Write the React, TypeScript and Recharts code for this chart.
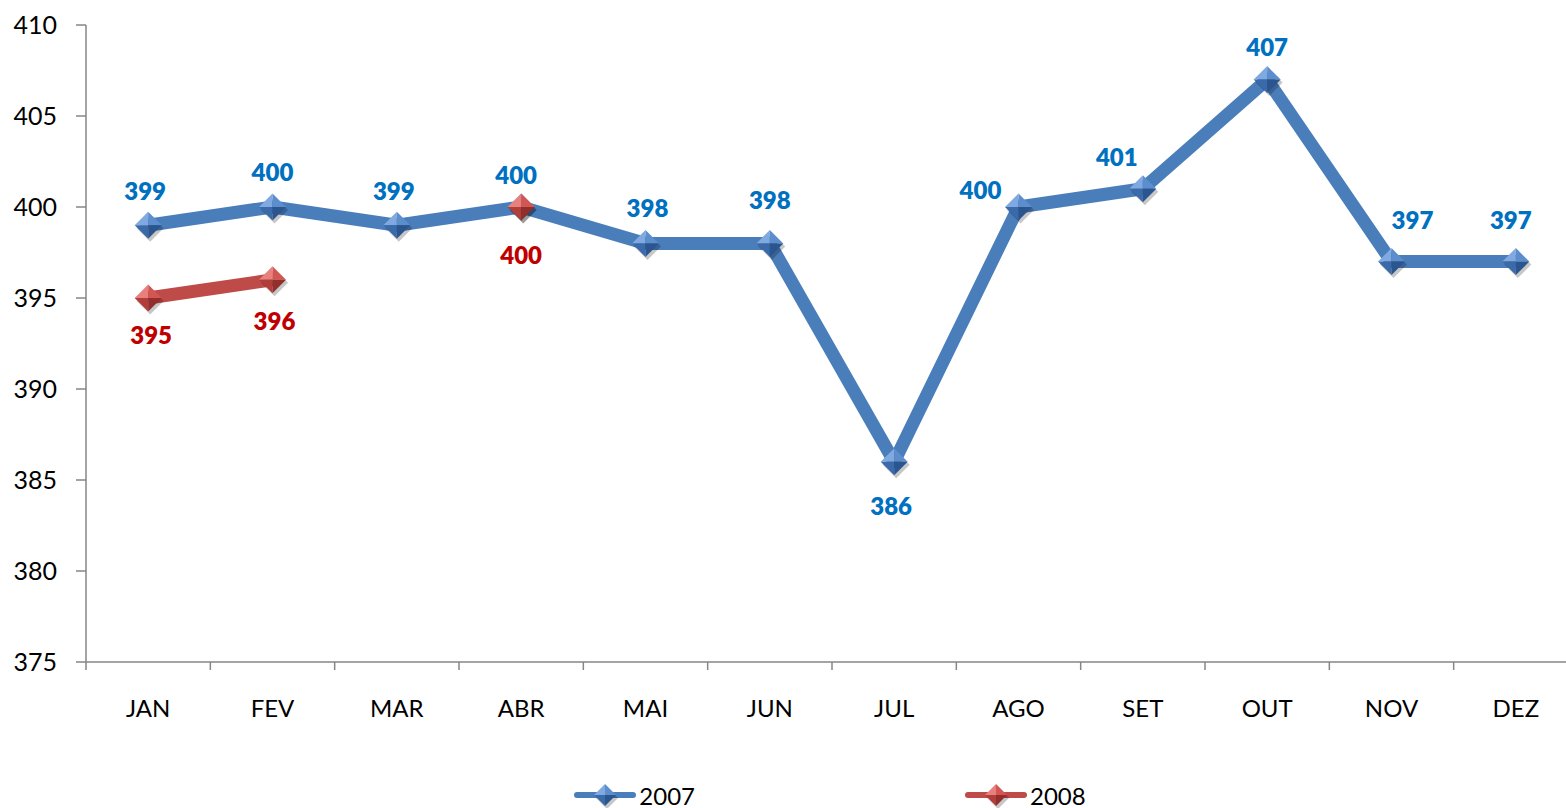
import React from 'react';
import { LineChart, Line, XAxis, YAxis, Legend, LabelList } from 'recharts';

const months = ['JAN', 'FEV', 'MAR', 'ABR', 'MAI', 'JUN', 'JUL', 'AGO', 'SET', 'OUT', 'NOV', 'DEZ'];
const values2007: (number | null)[] = [399, 400, 399, 400, 398, 398, 386, 400, 401, 407, 397, 397];
const values2008: (number | null)[] = [395, 396, null, 400, null, null, null, null, null, null, null, null];
const yTicks = [375, 380, 385, 390, 395, 400, 405, 410];
const categoryTicks = months.map((_, i) => i);
const boundaryTicks = [...months.map((_, i) => i - 0.5), months.length - 0.5];

// label placement offsets (layout only)
const labelOffsets2007 = [
  [-3, -35], [0, -36], [-3, -35], [-5, -33], [2, -36], [0, -44],
  [-3, 44], [-38, -18], [-26, -32], [0, -33], [21, -42], [-5, -42],
];
const labelOffsets2008 = [
  [3, 36], [2, 41], [0, 0], [0, 47], [0, 0], [0, 0],
  [0, 0], [0, 0], [0, 0], [0, 0], [0, 0], [0, 0],
];

const data = months.map((m, i) => ({ idx: i, month: m, y2007: values2007[i], y2008: values2008[i] }));

const FONT = 'Lato, "Open Sans", sans-serif';
const BLUE = '#4A7EBB';
const RED = '#BE4B48';

const facets = {
  blue: ['#7FA9E0', '#5C8DCC', '#3A6AAA', '#2A558E'],
  red: ['#E8817E', '#D25753', '#B23E3A', '#922E2B'],
};

function Diamond({ cx, cy, r, colors }: { cx: number; cy: number; r: number; colors: string[] }) {
  return (
    <g>
      <polygon
        points={`${cx + 2},${cy - r + 3} ${cx + r + 2},${cy + 3} ${cx + 2},${cy + r + 3} ${cx - r + 2},${cy + 3}`}
        fill="rgba(0,0,0,0.22)"
      />
      <polygon points={`${cx},${cy - r} ${cx},${cy} ${cx - r},${cy}`} fill={colors[0]} />
      <polygon points={`${cx},${cy - r} ${cx + r},${cy} ${cx},${cy}`} fill={colors[1]} />
      <polygon points={`${cx - r},${cy} ${cx},${cy} ${cx},${cy + r}`} fill={colors[2]} />
      <polygon points={`${cx},${cy} ${cx + r},${cy} ${cx},${cy + r}`} fill={colors[3]} />
    </g>
  );
}

const makeDot = (colors: string[]) => (props: any) => {
  const { cx, cy, value, index } = props;
  if (value == null || typeof cx !== 'number' || typeof cy !== 'number' || isNaN(cy)) {
    return <g key={`d-${index}`} />;
  }
  return <Diamond key={`d-${index}`} cx={cx} cy={cy} r={13.5} colors={colors} />;
};

const makeLabel = (color: string, offsets: number[][]) => (props: any) => {
  const { x, y, value, index } = props;
  if (value == null || typeof x !== 'number' || typeof y !== 'number') return null;
  const [dx, dy] = offsets[index] || [0, -35];
  return (
    <text
      x={x + dx}
      y={y + dy}
      textAnchor="middle"
      dominantBaseline="central"
      fill={color}
      fontFamily={FONT}
      fontWeight={800}
      fontSize={24}
    >
      {value}
    </text>
  );
};

function LegendIcon({ colors, stroke }: { colors: string[]; stroke: string }) {
  return (
    <svg width={62} height={28} style={{ display: 'block' }}>
      <line x1={3} y1={14} x2={59} y2={14} stroke={stroke} strokeWidth={6} strokeLinecap="round" />
      <Diamond cx={31} cy={14} r={11} colors={colors} />
    </svg>
  );
}

const renderLegend = () => (
  <div
    style={{
      display: 'flex',
      justifyContent: 'center',
      alignItems: 'center',
      gap: 270,
      height: 26,
      paddingLeft: 82,
      fontFamily: FONT,
      fontSize: 24,
      color: '#000',
    }}
  >
    <div style={{ display: 'flex', alignItems: 'center', gap: 3 }}>
      <LegendIcon colors={facets.blue} stroke={BLUE} />
      <span>2007</span>
    </div>
    <div style={{ display: 'flex', alignItems: 'center', gap: 3 }}>
      <LegendIcon colors={facets.red} stroke={RED} />
      <span>2008</span>
    </div>
  </div>
);

export default function App() {
  return (
    <div style={{ position: 'absolute', left: 0, top: 0, width: 1566, height: 808, overflow: 'hidden', background: '#fff' }}>
      <LineChart width={1600} height={808} data={data} margin={{ top: 25, right: 22, bottom: 0, left: 0 }}>
        <YAxis
          type="number"
          domain={[375, 410]}
          ticks={yTicks}
          interval={0}
          width={86}
          stroke="#868686"
          strokeWidth={1.5}
          tickSize={10}
          tickMargin={19}
          tick={{ fill: '#000', fontFamily: FONT, fontSize: 25 }}
          allowDataOverflow
        />
        <XAxis
          xAxisId="bounds"
          type="number"
          dataKey="idx"
          domain={[-0.5, months.length - 0.5]}
          ticks={boundaryTicks}
          interval={0}
          tickFormatter={() => ''}
          tickSize={8}
          height={10}
          stroke="#868686"
          strokeWidth={1.5}
          allowDataOverflow
        />
        <XAxis
          xAxisId="labels"
          type="number"
          dataKey="idx"
          domain={[-0.5, months.length - 0.5]}
          ticks={categoryTicks}
          interval={0}
          tickFormatter={(v: number) => months[v] ?? ''}
          axisLine={false}
          tickLine={false}
          tickSize={0}
          tickMargin={28}
          height={110}
          tick={{ fill: '#000', fontFamily: FONT, fontSize: 24 }}
          allowDataOverflow
        />
        <Legend verticalAlign="bottom" content={renderLegend} />
        <Line
          xAxisId="labels"
          type="linear"
          dataKey="y2007"
          name="2007"
          stroke={BLUE}
          strokeWidth={13}
          strokeLinejoin="round"
          dot={makeDot(facets.blue)}
          activeDot={false}
          isAnimationActive={false}
        >
          <LabelList dataKey="y2007" content={makeLabel('#0070C0', labelOffsets2007)} />
        </Line>
        <Line
          xAxisId="labels"
          type="linear"
          dataKey="y2008"
          name="2008"
          stroke={RED}
          strokeWidth={13}
          strokeLinejoin="round"
          dot={makeDot(facets.red)}
          activeDot={false}
          connectNulls={false}
          isAnimationActive={false}
        >
          <LabelList dataKey="y2008" content={makeLabel('#C00000', labelOffsets2008)} />
        </Line>
      </LineChart>
    </div>
  );
}
